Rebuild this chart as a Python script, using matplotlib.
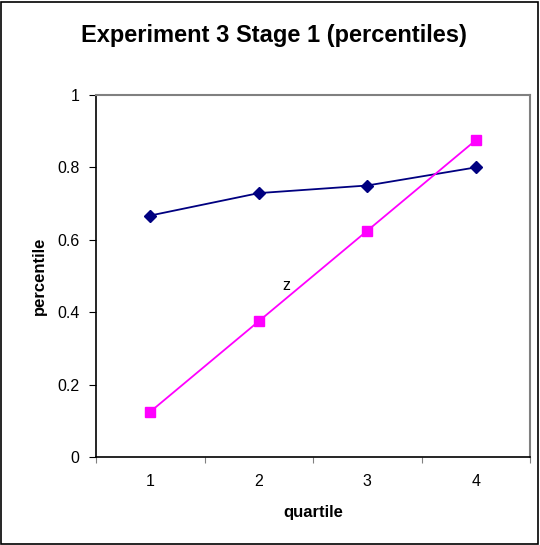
import matplotlib.pyplot as plt
from matplotlib.patches import Rectangle

plt.rcParams['font.family'] = ['Liberation Sans', 'DejaVu Sans']

quartiles = [1, 2, 3, 4]
navy_series = [0.667, 0.729, 0.750, 0.800]
z_series = [0.125, 0.375, 0.625, 0.875]

fig = plt.figure(figsize=(5.4, 5.45), dpi=100)
ax = fig.add_axes([96 / 540, 1 - 457 / 545, 434 / 540, 362 / 545])

ax.plot(quartiles, navy_series, color='#000080', marker='D', markersize=6.5,
        linewidth=1.3)
ax.plot(quartiles, z_series, color='#FF00FF', marker='s', markersize=7,
        linewidth=1.3)
ax.text(2.25, 0.475, 'z', fontsize=11.5, ha='center', va='center')

# category axis: labels at centres, ticks on the boundaries
ax.set_xlim(0.5, 4.5)
ax.set_xticks([0.5, 1.5, 2.5, 3.5, 4.5])
ax.set_xticklabels([])
ax.set_xticks(quartiles, minor=True)
ax.set_xticklabels([str(q) for q in quartiles], minor=True, fontsize=11.5)
ax.tick_params(axis='x', which='minor', length=0, pad=12)
ax.tick_params(axis='x', which='major', length=4, direction='out', color='#808080')

ax.set_ylim(0, 1)
ax.set_yticks([0, 0.2, 0.4, 0.6, 0.8, 1.0])
ax.set_yticklabels(['0', '0.2', '0.4', '0.6', '0.8', '1'], fontsize=11.5)
ax.tick_params(axis='y', length=5, direction='out', pad=7)

for side in ['top', 'right']:
    ax.spines[side].set_color('#808080')
    ax.spines[side].set_linewidth(1.5)
for side in ['left', 'bottom']:
    ax.spines[side].set_color('black')
    ax.spines[side].set_linewidth(1.2)

ax.set_xlabel('quartile', fontsize=12, fontweight='bold', labelpad=12)
ax.set_ylabel('percentile', fontsize=12, fontweight='bold', labelpad=7)
fig.text(0.508, 1 - 35 / 545, 'Experiment 3 Stage 1 (percentiles)', fontsize=17,
         fontweight='bold', ha='center', va='center')

fig.patches.append(Rectangle((0.002, 0.002), 0.995, 0.995, transform=fig.transFigure,
                             fill=False, edgecolor='black', linewidth=1.2))

fig.savefig('out.png', dpi=100)
